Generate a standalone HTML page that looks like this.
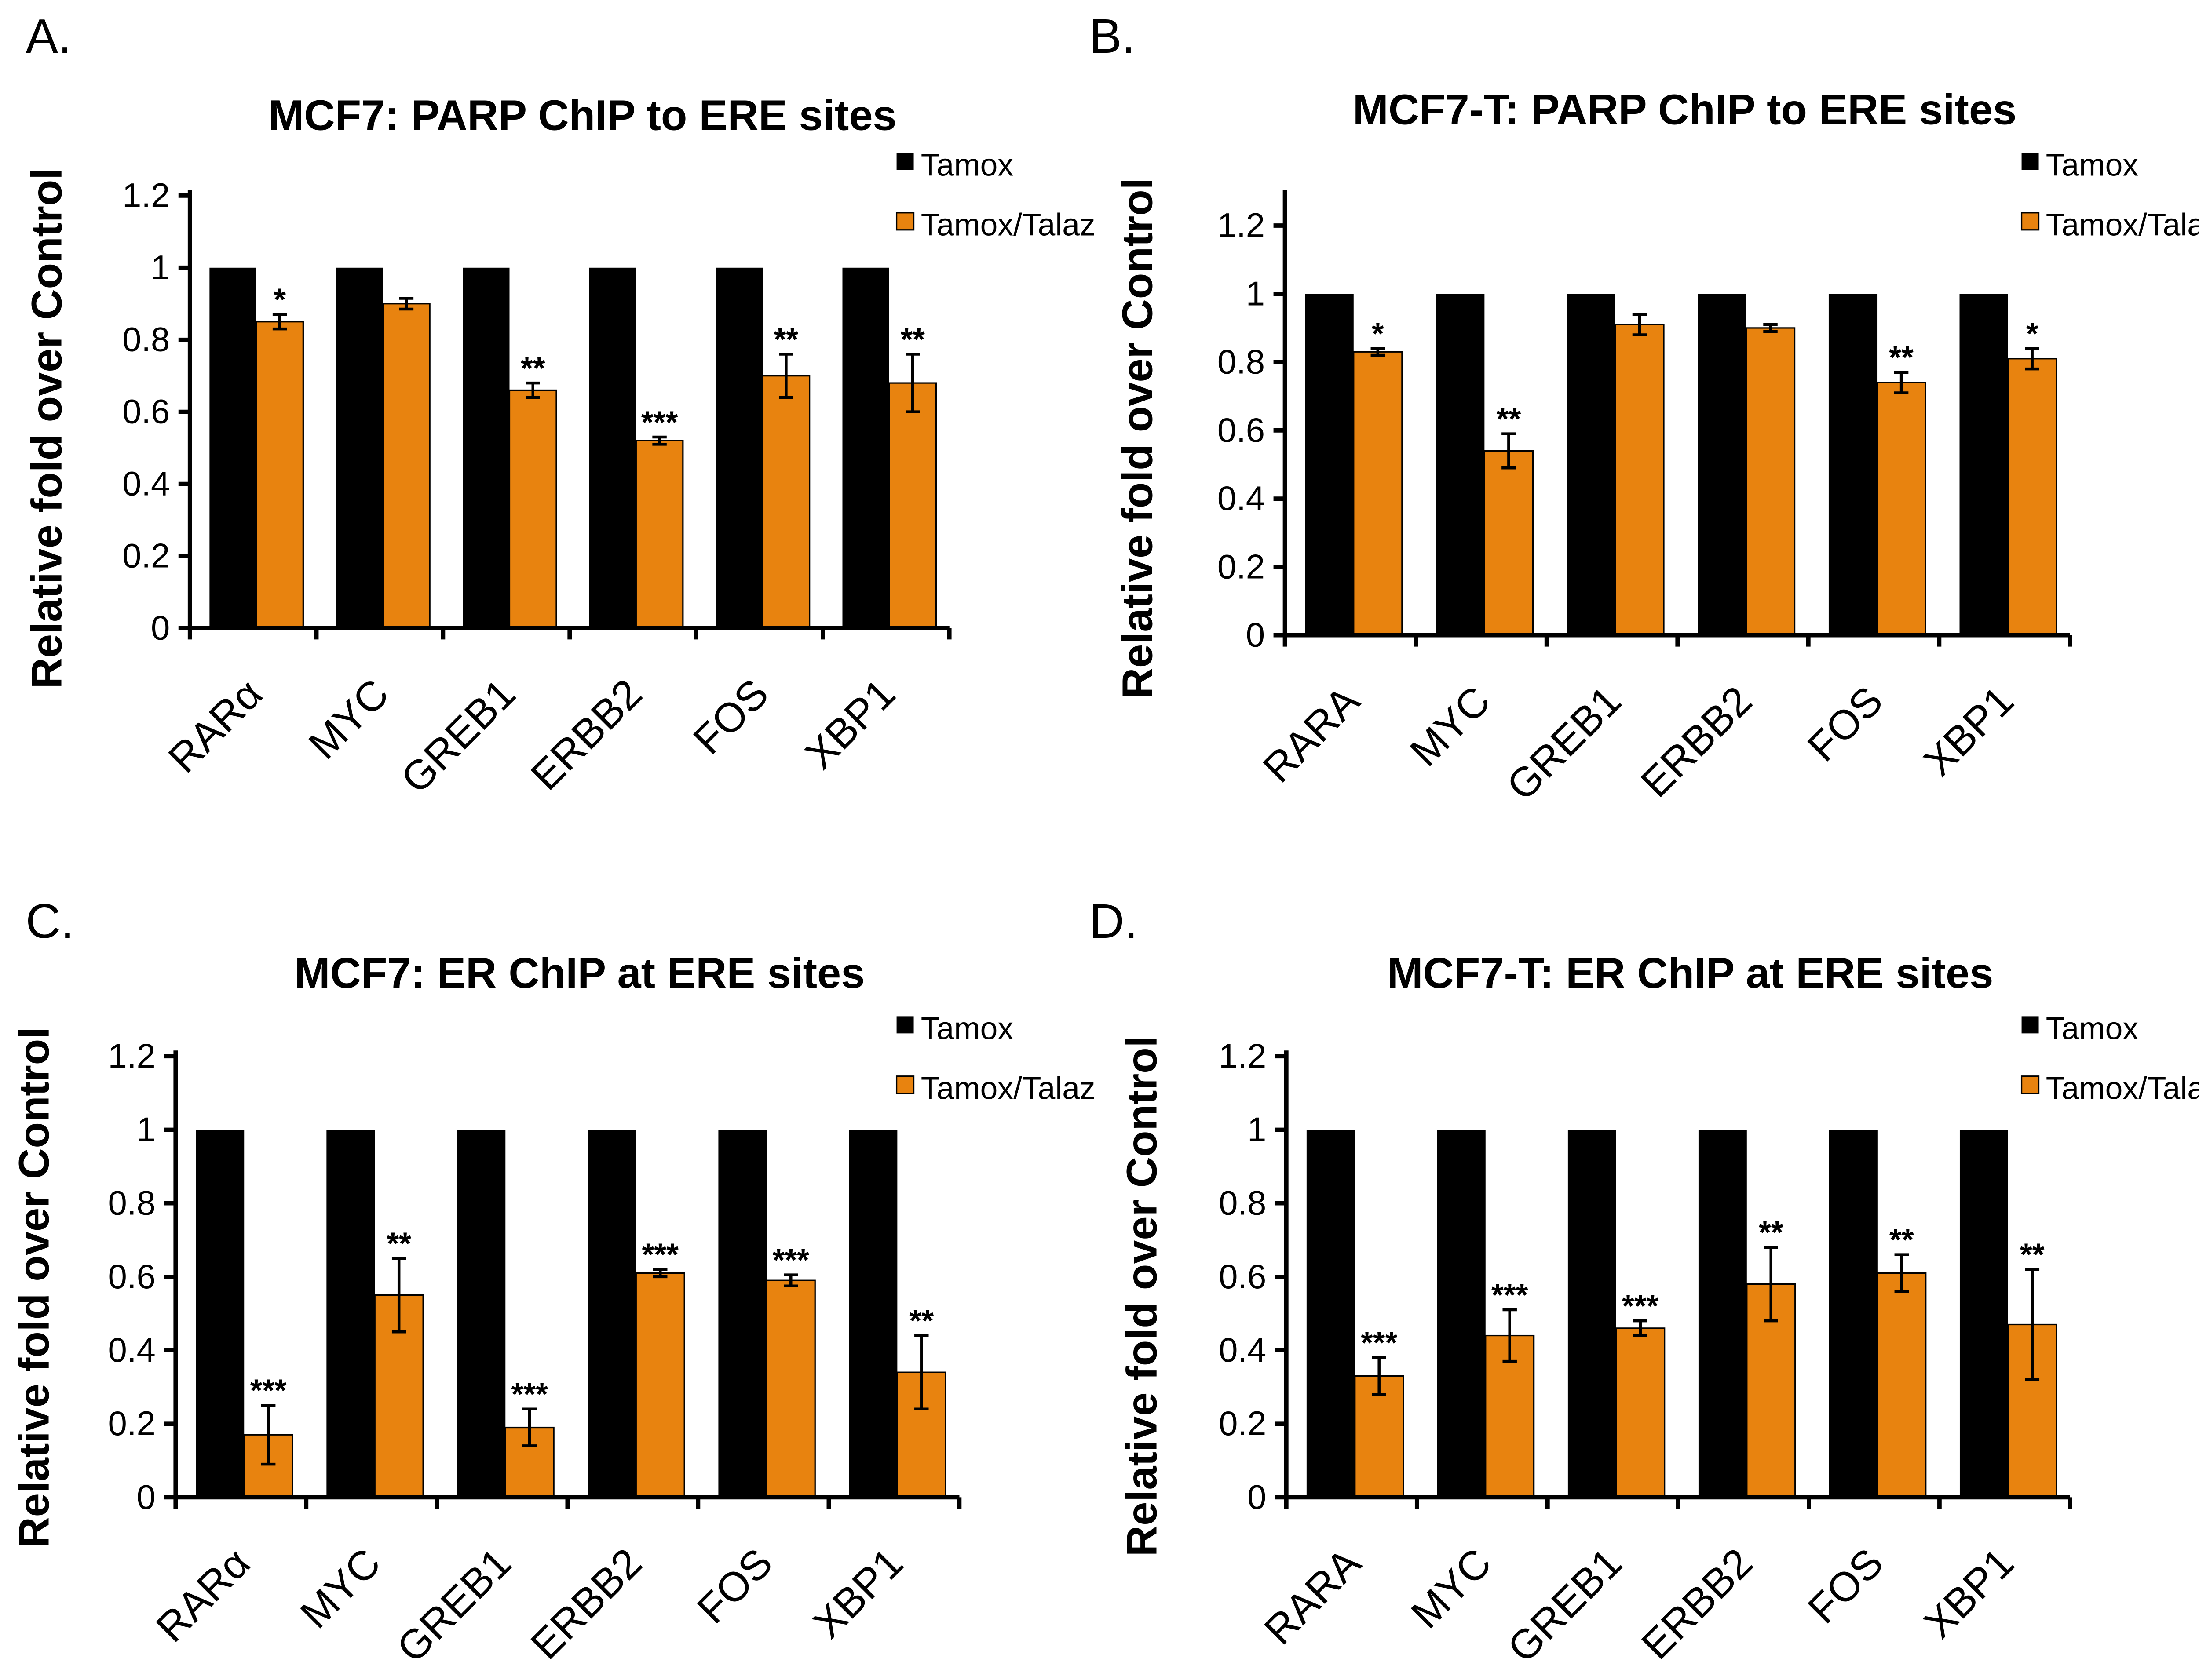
<!DOCTYPE html>
<html><head><meta charset="utf-8"><style>
html,body{margin:0;padding:0;background:#fff}
svg{display:block}
text{font-family:"Liberation Sans",Arial,sans-serif;fill:#000}
</style></head><body>
<svg id="fig" xmlns="http://www.w3.org/2000/svg" width="5090" height="3821" viewBox="0 0 1568 1177"></svg>
<script>
const categoriesA = ["RARα","MYC","GREB1","ERBB2","FOS","XBP1"];
const categoriesB = ["RARA","MYC","GREB1","ERBB2","FOS","XBP1"];
const tamoxA = [1,1,1,1,1,1];
const talazA = [0.85,0.90,0.66,0.52,0.70,0.68];
const errA = [0.02,0.015,0.02,0.01,0.06,0.08];
const starsA = ["*","","**","***","**","**"];
const tamoxB = [1,1,1,1,1,1];
const talazB = [0.83,0.54,0.91,0.90,0.74,0.81];
const errB = [0.01,0.05,0.03,0.01,0.03,0.03];
const starsB = ["*","**","","","**","*"];
const tamoxC = [1,1,1,1,1,1];
const talazC = [0.17,0.55,0.19,0.61,0.59,0.34];
const errC = [0.08,0.10,0.05,0.01,0.015,0.10];
const starsC = ["***","**","***","***","***","**"];
const tamoxD = [1,1,1,1,1,1];
const talazD = [0.33,0.44,0.46,0.58,0.61,0.47];
const errD = [0.05,0.07,0.02,0.10,0.05,0.15];
const starsD = ["***","***","***","**","**","**"];
const yTicks = [0,0.2,0.4,0.6,0.8,1,1.2];
const yTickLabels = ["0","0.2","0.4","0.6","0.8","1","1.2"];

const NS="http://www.w3.org/2000/svg";
const svg=document.getElementById('fig');
function mk(tag,attrs,parent,txt){const e=document.createElementNS(NS,tag);for(const k in attrs)e.setAttribute(k,attrs[k]);if(txt!==undefined)e.textContent=txt;(parent||svg).appendChild(e);return e;}

function panel(cfg){
  const g=mk('g',{});
  
  
  const y=v=>cfg.y0-(v/1.2)*(cfg.y0-cfg.y12);
  const gw=(cfg.x1-cfg.x0)/cfg.cats.length;
  const bw=gw*0.37;
  const lt=mk('text',{x:cfg.letterX,y:cfg.letterY,'font-size':34},g,cfg.letter);
  
  const t=mk('text',{x:cfg.titleX,y:cfg.titleY,'font-size':30,'font-weight':'bold','text-anchor':'middle'},g,cfg.title);
  
  const yt=mk('text',{x:0,y:0,'font-size':30,'font-weight':'bold','text-anchor':'middle',transform:`translate(${cfg.ytX},${cfg.ytY}) rotate(-90)`},g,'Relative fold over Control');
  
  // bars
  cfg.cats.forEach((c,i)=>{
    const gx=cfg.x0+gw*i+gw*0.155;
    const b1=mk('rect',{x:gx,y:y(cfg.tam[i]),width:bw,height:cfg.y0-y(cfg.tam[i]),fill:'#000'},g);
    
    const b2=mk('rect',{x:gx+bw,y:y(cfg.tal[i]),width:bw,height:cfg.y0-y(cfg.tal[i]),fill:'#e8830f',stroke:'#000','stroke-width':1},g);
    
    const cx=gx+bw*1.5, hi=y(cfg.tal[i]+cfg.err[i]), lo=y(cfg.tal[i]-cfg.err[i]);
    const eb=mk('path',{d:`M${cx},${hi}V${lo}M${cx-5},${hi}H${cx+5}M${cx-5},${lo}H${cx+5}`,stroke:'#000','stroke-width':2,fill:'none'},g);
    
    if(cfg.stars[i]){const s=mk('text',{x:cx,y:hi-3,'font-size':22,'font-weight':'bold','text-anchor':'middle'},g,cfg.stars[i]);
      }
    const lx=cfg.x0+gw*(i+0.5)+8, ly=cfg.y0+48;
    const xl=mk('text',{x:0,y:0,'font-size':29,'text-anchor':'end',transform:`translate(${lx},${ly}) rotate(-45)`},g,c);
    
  });
  // axes
  const ya=mk('line',{x1:cfg.x0,y1:cfg.y0,x2:cfg.x0,y2:cfg.yTop,stroke:'#000','stroke-width':3},g);
  
  const xa=mk('line',{x1:cfg.x0-1,y1:cfg.y0,x2:cfg.x1,y2:cfg.y0,stroke:'#000','stroke-width':3},g);
  
  yTicks.forEach((v,i)=>{
    mk('line',{x1:cfg.x0-8,y1:y(v),x2:cfg.x0,y2:y(v),stroke:'#000','stroke-width':3},g);
    const tl=mk('text',{x:cfg.x0-14,y:y(v)+8,'font-size':24,'text-anchor':'end'},g,yTickLabels[i]);
    
  });
  for(let i=0;i<=cfg.cats.length;i++){const tx=cfg.x0+gw*i;mk('line',{x1:tx,y1:cfg.y0,x2:tx,y2:cfg.y0+8,stroke:'#000','stroke-width':3},g);}
  // legend
  const lg=mk('g',{},g);
  mk('rect',{x:cfg.legX,y:cfg.legY-8,width:12,height:12,fill:'#000'},lg);
  mk('text',{x:cfg.legX+17,y:cfg.legY+8,'font-size':22},lg,'Tamox');
  mk('rect',{x:cfg.legX,y:cfg.legY+34,width:12,height:12,fill:'#e8830f',stroke:'#000','stroke-width':1},lg);
  mk('text',{x:cfg.legX+17,y:cfg.legY+50,'font-size':22},lg,'Tamox/Talaz');
}
panel({id:'a',letter:'A.',letterX:18,letterY:37,title:'MCF7: PARP ChIP to ERE sites',titleX:408,titleY:91,ytX:43,ytY:300,
  x0:133,x1:665,y0:440,y12:137,yTop:133,cats:categoriesA,tam:tamoxA,tal:talazA,err:errA,stars:starsA,legX:628,legY:115});
panel({id:'b',letter:'B.',letterX:763,letterY:37,title:'MCF7-T: PARP ChIP to ERE sites',titleX:1180,titleY:87,ytX:807,ytY:307,
  x0:900,x1:1450,y0:445,y12:158,yTop:133,cats:categoriesB,tam:tamoxB,tal:talazB,err:errB,stars:starsB,legX:1416,legY:115});
panel({id:'c',letter:'C.',letterX:18,letterY:657,title:'MCF7: ER ChIP at ERE sites',titleX:406,titleY:692,ytX:34,ytY:902,
  x0:123,x1:672,y0:1049,y12:740,yTop:736,cats:categoriesA,tam:tamoxC,tal:talazC,err:errC,stars:starsC,legX:628,legY:720});
panel({id:'d',letter:'D.',letterX:763,letterY:657,title:'MCF7-T: ER ChIP at ERE sites',titleX:1184,titleY:692,ytX:810,ytY:908,
  x0:901,x1:1450,y0:1049,y12:740,yTop:736,cats:categoriesB,tam:tamoxD,tal:talazD,err:errD,stars:starsD,legX:1416,legY:720});
</script>
</body></html>
